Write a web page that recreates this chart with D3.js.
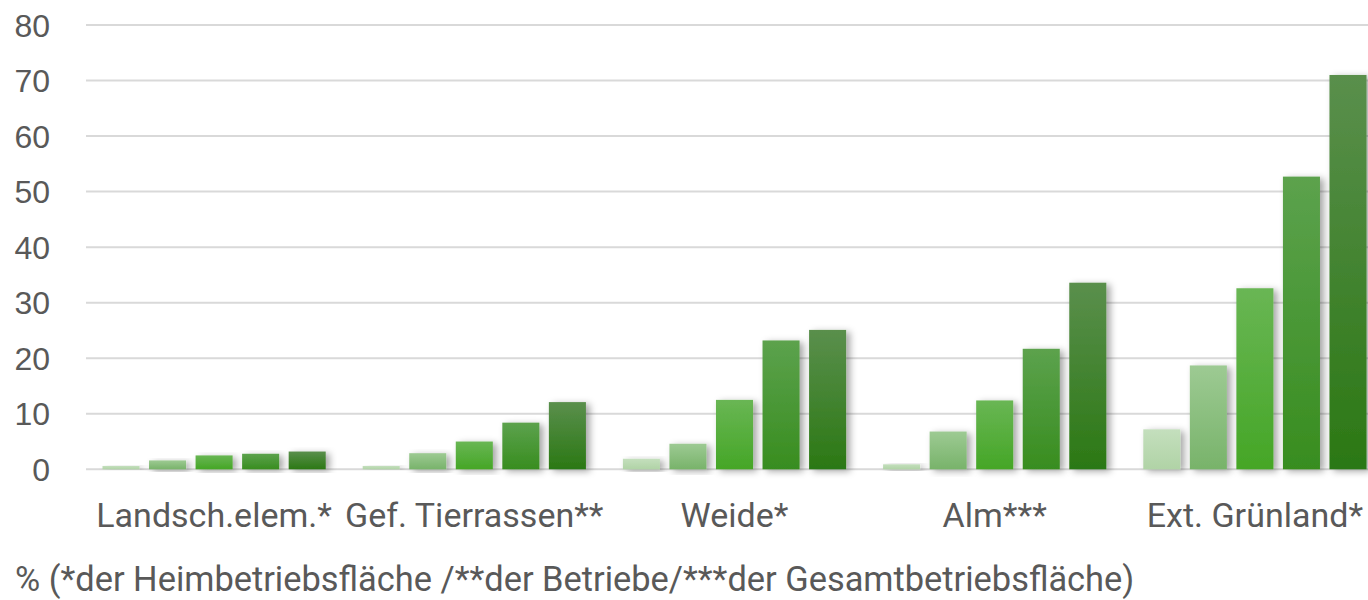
<!DOCTYPE html>
<html>
<head>
<meta charset="utf-8">
<script src="https://cdn.jsdelivr.net/npm/d3@7"></script>
<style>
  html, body { margin: 0; padding: 0; background: #fff; }
  svg { display: block; }
</style>
</head>
<body>
<svg id="chart" width="1368" height="600"></svg>
<script>
// ---- data ----
const categories = ["Landsch.elem.*", "Gef. Tierrassen**", "Weide*", "Alm***", "Ext. Grünland*"];
const seriesNames = ["s1", "s2", "s3", "s4", "s5"];
const s1 = [0.6, 0.6, 1.9, 0.9, 7.2];
const s2 = [1.6, 2.9, 4.6, 6.8, 18.7];
const s3 = [2.5, 5.0, 12.5, 12.4, 32.6];
const s4 = [2.8, 8.4, 23.2, 21.7, 52.7];
const s5 = [3.2, 12.1, 25.1, 33.6, 71.0];
const yTicks = [0, 10, 20, 30, 40, 50, 60, 70, 80];
const footnote = "% (*der Heimbetriebsfläche /**der Betriebe/***der Gesamtbetriebsfläche)";

const seriesValues = [s1, s2, s3, s4, s5];
const gradColors = [
  ["#c4dfbd", "#b0d3a6"],
  ["#9dca93", "#78b36a"],
  ["#69b654", "#45a626"],
  ["#5ca24d", "#388d1f"],
  ["#5a8f4c", "#2b7814"]
];

const svg = d3.select("#chart");
const defs = svg.append("defs");

const filter = defs.append("filter").attr("id", "shadow")
  .attr("x", "-20%").attr("y", "-20%").attr("width", "150%").attr("height", "140%");
filter.append("feDropShadow")
  .attr("dx", 4).attr("dy", 2).attr("stdDeviation", 3.5)
  .attr("flood-color", "#000").attr("flood-opacity", 0.35);

gradColors.forEach((c, i) => {
  const g = defs.append("linearGradient").attr("id", "g" + i)
    .attr("x1", 0).attr("y1", 0).attr("x2", 0).attr("y2", 1);
  g.append("stop").attr("offset", "0%").attr("stop-color", c[0]);
  g.append("stop").attr("offset", "100%").attr("stop-color", c[1]);
});

const x0 = d3.scaleBand().domain(categories).range([84, 1385]).paddingInner(0).paddingOuter(0);
const x1 = d3.scaleBand().domain(seriesNames).range([0, x0.bandwidth()]).paddingInner(0.204).paddingOuter(0.397);
const y = d3.scaleLinear().domain([0, 80]).range([469.3, 25]);

// gridlines
svg.append("g").selectAll("line").data(yTicks).join("line")
  .attr("x1", 86).attr("x2", 1368)
  .attr("y1", d => y(d)).attr("y2", d => y(d))
  .attr("stroke", "#d9d9d9").attr("stroke-width", 2);

// y labels
svg.append("g").selectAll("text").data(yTicks).join("text")
  .attr("x", 50).attr("y", d => y(d))
  .attr("dy", "0.36em")
  .attr("text-anchor", "end")
  .attr("font-family", "Liberation Sans, Arial, sans-serif")
  .attr("font-size", 32)
  .attr("fill", "#595959")
  .text(d => d);

// bars
const groups = svg.append("g").selectAll("g").data(categories).join("g")
  .attr("transform", d => `translate(${x0(d)},0)`);

groups.selectAll("rect")
  .data((c, ci) => seriesNames.map((s, si) => ({ s, si, v: seriesValues[si][ci] })))
  .join("rect")
  .attr("x", d => x1(d.s))
  .attr("width", x1.bandwidth())
  .attr("y", d => y(d.v))
  .attr("height", d => y(0) - y(d.v))
  .attr("fill", d => `url(#g${d.si})`)
  .attr("filter", "url(#shadow)");

// category labels
svg.append("g").selectAll("text").data(categories).join("text")
  .attr("x", d => x0(d) + x0.bandwidth() / 2)
  .attr("y", 527)
  .attr("text-anchor", "middle")
  .attr("font-family", "Roboto, sans-serif")
  .attr("font-size", 34)
  .attr("fill", "#595959")
  .text(d => d);

// footnote
svg.append("text")
  .attr("x", 15).attr("y", 591)
  .attr("font-family", "Roboto, sans-serif")
  .attr("font-size", 34.4)
  .attr("fill", "#595959")
  .text(footnote);
</script>
</body>
</html>
